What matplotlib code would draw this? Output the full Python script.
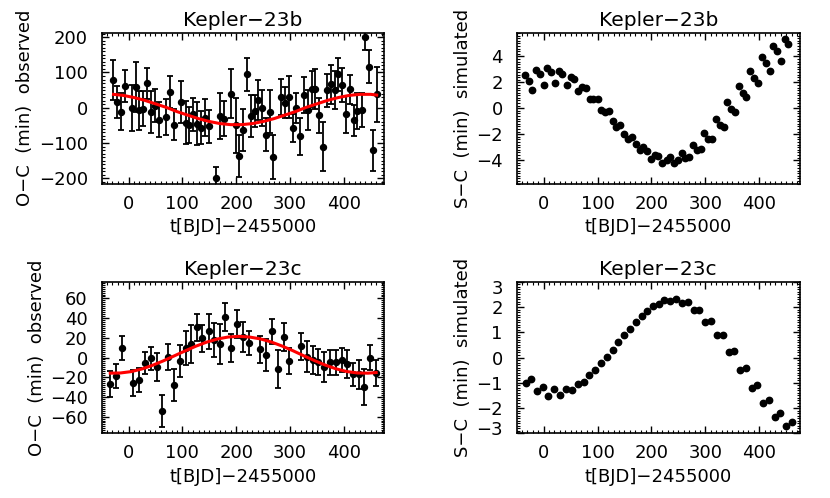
import numpy as np
import matplotlib
matplotlib.use('Agg')
from matplotlib import pyplot as plt
from matplotlib.ticker import MultipleLocator, AutoMinorLocator
from matplotlib.transforms import ScaledTranslation

# Kepler-23b observed O-C (min)
t_b_obs = [-29, -22, -14, -7, 7, 14, 20, 27, 35, 42, 50, 56, 70, 77, 85, 98, 106, 113, 120, 127,
           134, 142, 149, 162, 170, 178, 191, 199, 206, 213, 220, 227, 234, 241, 248, 256, 262, 269, 283, 290,
           298, 305, 312, 319, 326, 333, 340, 347, 354, 361, 368, 376, 383, 390, 397, 404, 411, 419, 425, 433,
           440, 447, 454, 461]
oc_b = [78, 17, -11, 61, 0, 59, -7, -3, 69, -13, 6, -34, -26, 45, -48, 16, -42, -50, -18, -45,
        -57, -28, -53, -200, -24, -31, 40, -50, -137, -63, 95, -24, -10, 23, -1, -76, -11, -140, 31, 14,
        31, -57, 0, -81, 36, -7, 52, 52, -21, -110, 50, 67, 50, 95, 64, -19, 52, -36, -9, -7,
        200, 116, -121, 38]
err_b = [57, 45, 52, 45, 65, 70, 55, 50, 45, 60, 47, 50, 52, 45, 44, 60, 62, 51, 47, 62,
         47, 52, 47, 33, 65, 49, 70, 78, 60, 60, 47, 59, 45, 57, 52, 46, 62, 62, 51, 44,
         60, 40, 42, 52, 52, 57, 51, 57, 50, 70, 47, 55, 55, 47, 49, 52, 40, 43, 50, 48,
         36, 47, 59, 78]
fit_t_b = [-28, -10, 10, 30, 50, 70, 90, 110, 130, 150, 170, 190, 210, 230, 250, 270, 290, 310, 330,
           350, 370, 390, 410, 430, 450, 461]
fit_b = [38, 35, 29, 21, 11, 1, -11, -21, -31, -39, -45, -48, -48, -45, -39, -31, -21, -11, 1,
         11, 21, 29, 35, 38, 38, 36]

# Kepler-23b simulated S-C (min)
t_b_sim = [-35, -28, -21, -14, -7, 0, 7, 14, 21, 29, 35, 43, 50, 57, 64, 71, 78, 86, 92, 100,
           107, 114, 121, 128, 135, 142, 149, 156, 164, 171, 178, 185, 192, 199, 206, 213, 220, 228, 234, 242,
           249, 256, 263, 270, 277, 284, 291, 298, 305, 313, 319, 327, 334, 341, 348, 355, 362, 369, 376, 383,
           391, 398, 405, 412, 419, 426, 433, 440, 447, 454]
sc_b = [2.57, 2.13, 1.41, 2.96, 2.62, 1.83, 3.11, 2.78, 1.95, 2.90, 2.67, 1.80, 2.42, 2.24, 1.36, 1.67, 1.57, 0.75, 0.75, 0.75,
        -0.10, -0.31, -0.23, -0.98, -1.44, -1.26, -1.95, -2.37, -2.19, -2.75, -3.24, -3.00, -3.26, -3.88, -3.57, -3.65, -4.24, -3.96, -3.73, -4.24,
        -3.98, -3.42, -3.86, -3.75, -2.80, -3.24, -3.14, -1.90, -2.39, -2.39, -0.80, -1.31, -1.44, 0.46, -0.05, -0.31, 1.72, 1.21, 0.85, 2.90,
        2.37, 1.95, 3.93, 3.47, 2.88, 4.81, 4.40, 3.65, 5.35, 4.94]

# Kepler-23c observed O-C (min)
t_c_obs = [-34, -23, -12, 9, 20, 31, 41, 52, 63, 73, 84, 95, 106, 116, 127, 137, 149, 159, 170, 180,
           191, 202, 213, 224, 245, 256, 266, 277, 288, 299, 320, 331, 342, 352, 363, 374, 385, 396, 406, 417,
           428, 438, 449, 459]
oc_c = [-27, -18.6, 9.8, -25.7, -22.6, -5.4, -1, -9.8, -54.4, 0.3, -28, -3.7, 9.5, 13.9, 30.7, 19.6, 26.7, 17.9, 13.9, 40.9,
        9.8, 34.1, 20.6, 14.5, 8.4, 2.7, 26.7, -11.5, 20.6, -3.7, 11.5, 1, -2.4, -4.7, -9.8, -5, -5, -2.4, -6.8, -17.2,
        -17.2, -30, -0.3, -15.9]
err_c = [13, 12, 12, 13, 12, 11.5, 12, 14.5, 16, 13, 16, 16, 17, 19, 14, 13.5, 18, 17, 20, 14,
         14, 14, 15, 12, 13.5, 16, 12.5, 19.5, 14, 13.5, 13.7, 16, 14, 13.5, 15, 12.7, 12.5, 12.4, 14, 11.5,
         14.4, 18, 12.7, 13]
fit_t_c = [-34, -15, 5, 25, 45, 65, 85, 105, 125, 145, 165, 185, 205, 225, 245, 265, 285, 305, 325,
           345, 365, 385, 405, 425, 445, 460]
fit_c = [-15.9, -15.7, -14.3, -11.6, -7.8, -3.3, 1.7, 6.7, 11.5, 15.6, 18.8, 20.8, 21.5, 20.8, 18.9, 15.8, 11.7, 7.0, 1.9,
         -3.0, -7.6, -11.4, -14.2, -15.7, -15.9, -15.3]

# Kepler-23c simulated S-C (min)
t_c_sim = [-33, -23, -12, -1, 9, 20, 31, 42, 52, 63, 74, 84, 95, 106, 117, 128, 138, 149, 160, 171,
           182, 192, 203, 214, 224, 235, 246, 257, 267, 278, 289, 299, 311, 321, 332, 343, 353, 364, 375, 386,
           396, 407, 418, 429, 439, 450, 461]
sc_c = [-1.01, -0.84, -1.34, -1.15, -1.52, -1.25, -1.49, -1.23, -1.29, -1.03, -0.96, -0.68, -0.50, -0.22, 0.02, 0.31, 0.60, 0.88, 1.11, 1.41,
        1.63, 1.85, 2.02, 2.13, 2.26, 2.23, 2.30, 2.14, 2.18, 1.87, 1.90, 1.42, 1.45, 0.88, 0.91, 0.21, 0.27, -0.48, -0.42, -1.19,
        -1.08, -1.81, -1.68, -2.34, -2.18, -2.73, -2.55]

plt.rcParams['font.family'] = 'DejaVu Sans'
plt.rcParams['axes.linewidth'] = 1.2


def style_axes(ax, title, ylabel, ylim, ystep):
    ax.xaxis.set_major_locator(MultipleLocator(100))
    ax.xaxis.set_minor_locator(MultipleLocator(10))
    ax.yaxis.set_major_locator(MultipleLocator(ystep))
    ax.yaxis.set_minor_locator(AutoMinorLocator(10))
    ax.set_xlim(-50, 475)
    ax.set_ylim(*ylim)
    ax.tick_params(which='both', direction='in', top=True, right=True, labelsize=13)
    ax.tick_params(axis='x', pad=8)
    ax.tick_params(axis='y', pad=10)
    ax.tick_params(which='major', length=5, width=1)
    ax.tick_params(which='minor', length=2.5, width=0.8)
    ax.set_title(title, fontsize=14.5, pad=5)
    ax.set_xlabel('t[BJD]\u22122455000', fontsize=13, labelpad=4)
    ax.set_ylabel(ylabel, fontsize=13, labelpad=3)


fig = plt.figure(figsize=(8.3, 4.98), dpi=100)
ax1 = fig.add_axes([0.1225, 0.6315, 0.3404, 0.3022])
ax2 = fig.add_axes([0.6225, 0.6315, 0.3410, 0.3022])
ax3 = fig.add_axes([0.1225, 0.1299, 0.3404, 0.3044])
ax4 = fig.add_axes([0.6225, 0.1299, 0.3410, 0.3044])

ebkw = dict(fmt='o', color='k', ms=4.3, elinewidth=1.3, capsize=2.2, capthick=1.3)

ax1.errorbar(t_b_obs, oc_b, yerr=err_b, **ebkw)
ax1.plot(fit_t_b, fit_b, color='red', lw=2.2, zorder=4)
style_axes(ax1, 'Kepler\u221223b', 'O\u2212C  (min)  observed', (-215, 212), 100)

ax2.plot(t_b_sim, sc_b, 'o', color='k', ms=4.6)
style_axes(ax2, 'Kepler\u221223b', 'S\u2212C  (min)  simulated', (-5.8, 5.8), 2)

ax3.errorbar(t_c_obs, oc_c, yerr=err_c, **ebkw)
ax3.plot(fit_t_c, fit_c, color='red', lw=2.2, zorder=4)
style_axes(ax3, 'Kepler\u221223c', 'O\u2212C  (min)  observed', (-77, 77), 20)

ax4.plot(t_c_sim, sc_c, 'o', color='k', ms=4.6)
style_axes(ax4, 'Kepler\u221223c', 'S\u2212C  (min)  simulated', (-3, 3), 1)
ax4.set_yticks(np.arange(-3, 4))
ax4.set_yticklabels(['\u22123', '\u22122', '\u22121', '0', '1', '2', '3'])
ax4.set_ylim(-3, 3)
# end labels sit a little inside the frame, as in the original
labs = ax4.get_yticklabels()
labs[0].set_transform(labs[0].get_transform() + ScaledTranslation(0, 3.5 / 72, fig.dpi_scale_trans))
labs[-1].set_transform(labs[-1].get_transform() + ScaledTranslation(0, -4 / 72, fig.dpi_scale_trans))

fig.savefig('out.png', dpi=100)
